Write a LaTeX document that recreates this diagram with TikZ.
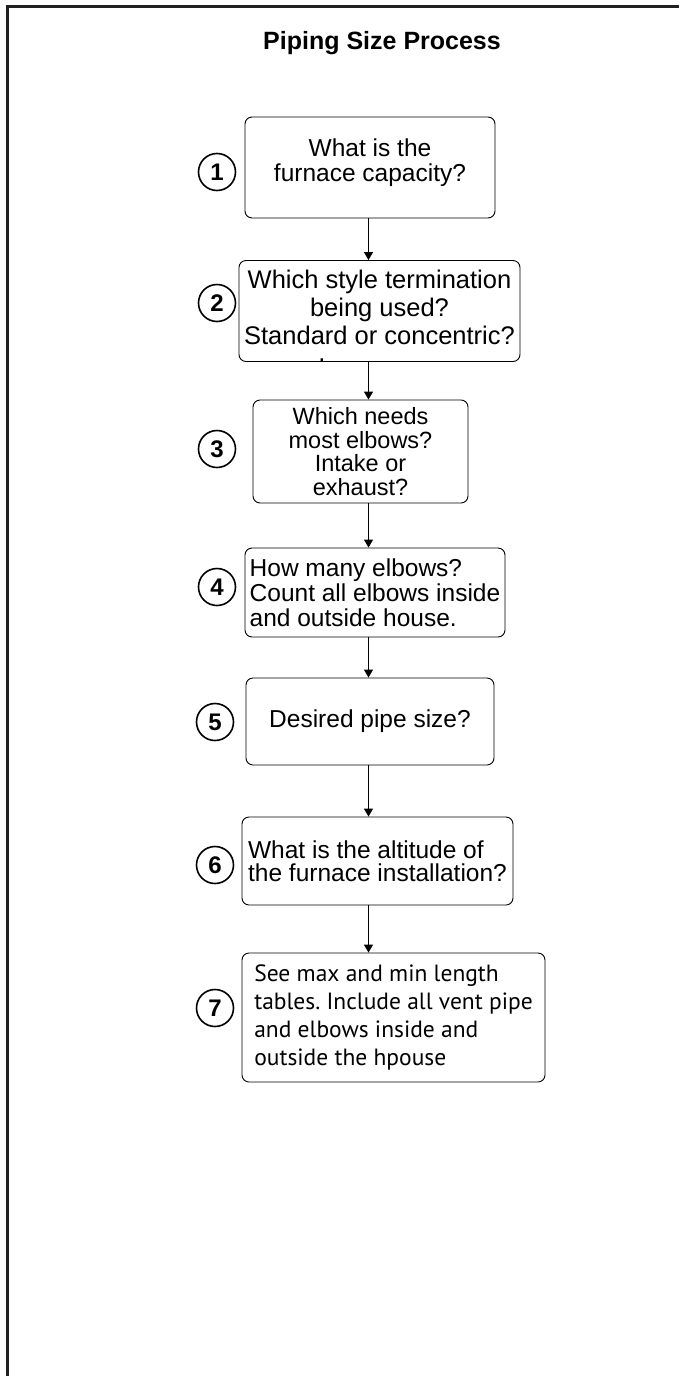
\documentclass[tikz,border=0pt]{standalone}
\usepackage{fontspec}
\setmainfont{Liberation Sans}
\newfontfamily\myriad{PT Sans}
\usetikzlibrary{arrows.meta,positioning}
\definecolor{frameink}{RGB}{35,31,32}
\tikzset{
  qbox/.style={draw=black, line width=0.9pt, rounded corners=7pt, inner sep=0pt,
               align=center, font=\fontsize{24.5}{25}\selectfont},
  stepnum/.style={circle, draw=black, line width=1.6pt, minimum size=37pt,
                  inner sep=0pt, font=\fontsize{24}{24}\selectfont\bfseries},
  flow/.style={-{Triangle[length=8pt,width=9pt]}, line width=1.4pt},
}

\begin{document}
\begin{tikzpicture}[x=1pt,y=-1pt]
    \useasboundingbox (0,0) rectangle (679,1376);
    \draw[frameink, line width=3pt] (7,1376) -- (7,6) -- (679,6);
    \node[font=\fontsize{25}{25}\selectfont\bfseries] (title) at (382,43) {Piping Size Process};
    % question boxes
    \node[qbox, minimum width=250pt, minimum height=101pt] (b1) at (370,167.5)
      {What is the\\furnace capacity?\\[-10pt]\mbox{}};
    \node[qbox, minimum width=281pt, minimum height=98pt, font=\fontsize{25.5}{28}\selectfont] (b2) at (379.5,311)
      {\rule{0pt}{28pt}Which style termination\\being used?\\Standard or concentric?\\[-11pt]\makebox[0pt][r]{.\hspace{54pt}}};
    \node[qbox, minimum width=215pt, minimum height=103pt, font=\fontsize{23.5}{23.5}\selectfont] (b3) at (360.5,451.5)
      {Which needs\\most elbows?\\Intake or\\exhaust?};
    \node[qbox, align=left, minimum width=260pt, minimum height=89pt] (b4) at (375,592.5)
      {How many elbows?\\Count all elbows inside\\and outside house.};
    \node[qbox, minimum width=248pt, minimum height=87pt] (b5) at (370,721.5) {Desired pipe size?};
    \node[qbox, align=left, minimum width=271pt, minimum height=88pt, font=\fontsize{24.5}{23.5}\selectfont] (b6) at (377.5,861)
      {What is the altitude of\\the furnace installation?};
    \node[qbox, align=left, minimum width=303pt, minimum height=129pt, font=\myriad\fontsize{23.5}{28}\selectfont\frenchspacing] (b7) at (393.5,1017.5)
      {See max and min length\\tables. Include all vent pipe\\and elbows inside and\\outside the hpouse};
    % step numbers
    \foreach \i/\x/\y in {1/217/172, 2/217/303, 3/217/449, 4/217/587, 5/215/722, 6/215/865, 7/215/1008}
      \node[stepnum] (n\i) at (\x,\y) {\i};
    % flow
    \coordinate (ax) at (368.5,0);
    \foreach \a/\b in {b1/b2, b2/b3, b3/b4, b4/b5, b5/b6, b6/b7}
      \draw[flow] (\a.south -| ax) -- (\b.north -| ax);
\end{tikzpicture}
\end{document}
